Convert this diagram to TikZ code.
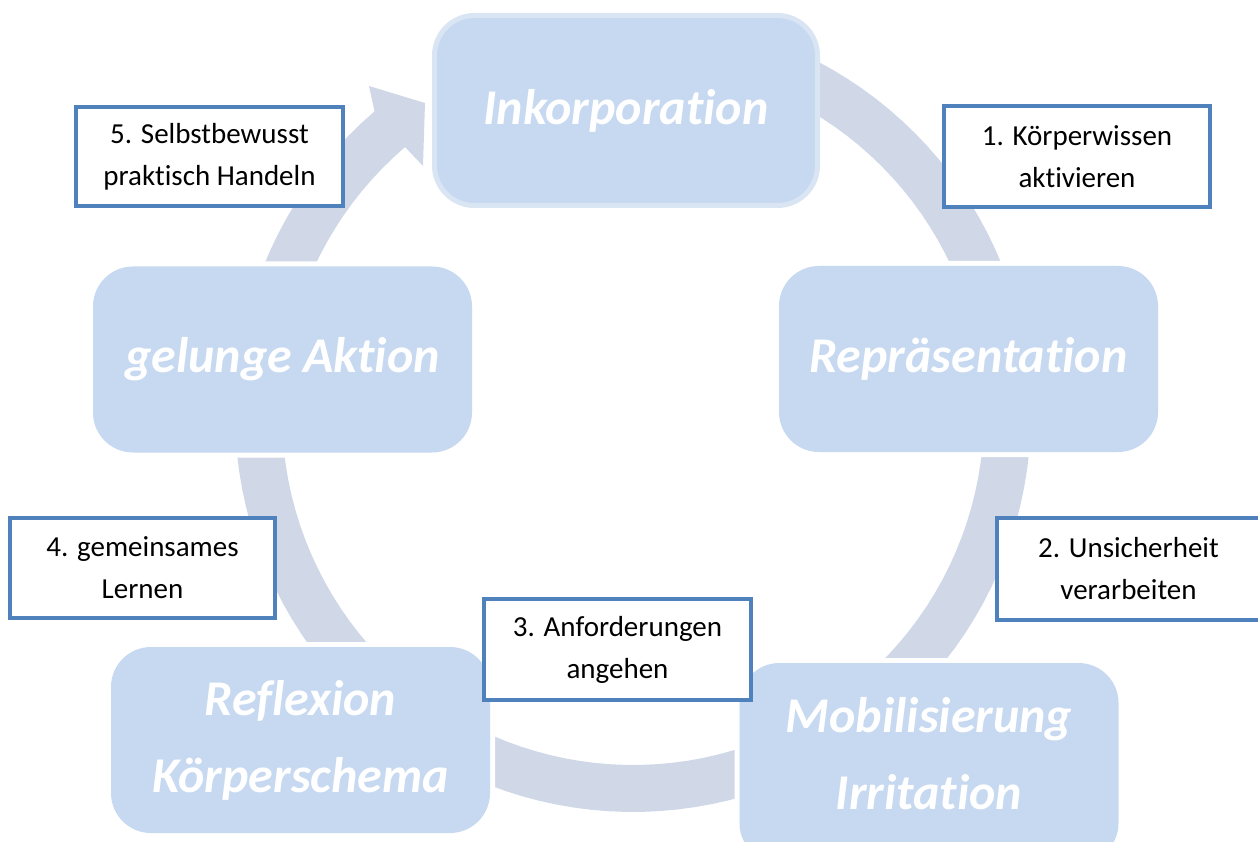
\documentclass[tikz,border=0pt]{standalone}
\usepackage{fontspec}
\setmainfont{Carlito}[Ligatures=NoCommon]
\definecolor{boxfill}{HTML}{C6D9F1}
\definecolor{bandcol}{HTML}{D0D8E8}
\definecolor{lightline}{HTML}{DAE5F4}
\definecolor{blueline}{HTML}{4F81BD}
\begin{document}
\begin{tikzpicture}[x=1pt,y=-1pt,
  bigfont/.style={text=white, align=center, font=\fontsize{50}{77}\selectfont\bfseries\itshape},
  bigbox/.style={rectangle, rounded corners=40pt, fill=boxfill, inner sep=0pt,
    minimum width=379pt, minimum height=186pt, bigfont,
    preaction={draw=white, line width=10pt}},
  stepbox/.style={rectangle, draw=blueline, line width=4pt, fill=white, inner sep=0pt,
    minimum width=267pt, minimum height=101pt, align=center, text=black,
    font=\fontsize{29}{42}\selectfont}]
\useasboundingbox (0,0) rectangle (1258,842);
% circular arrow band
\fill[bandcol] plot[domain=-70:229.5, samples=120] ({633+398*cos(\x)},{414+398*sin(\x)})
  -- (369,86) -- (425,103) -- (423,166)
  -- plot[domain=229.5:-70, samples=120] ({633+351*cos(\x)},{414+351*sin(\x)}) -- cycle;
% big boxes
\node[rectangle, rounded corners=40pt, fill=boxfill, draw=lightline, line width=5pt,
  minimum width=383pt, minimum height=190pt, inner sep=0pt, bigfont] (ink) at (626,110.5) {Inkorporation};
\node[bigbox] (rep) at (968.5,359) {Repräsentation};
\node[bigbox] (akt) at (282.5,359.5) {gelunge Aktion};
\node[bigbox, minimum height=200pt] (mob) at (929,763) {};
\node[bigfont] (mobtext) at (929,754) {Mobilisierung\\Irritation};
\node[bigbox] (ref) at (300.5,740) {Reflexion\\Körperschema};
% step boxes
\node[stepbox, minimum width=267pt, minimum height=99pt] (s5) at (209.5,156.5) {5. Selbstbewusst\\praktisch Handeln};
\node[stepbox, minimum width=266pt] (s1) at (1077,156.5) {1. Körperwissen\\aktivieren};
\node[stepbox, minimum width=263pt, minimum height=102pt] (s2) at (1128.5,569) {2. Unsicherheit\\verarbeiten};
\node[stepbox] (s3) at (617.5,649.5) {3. Anforderungen\\angehen};
\node[stepbox, minimum width=265pt, minimum height=100pt] (s4) at (142.5,568) {4. gemeinsames\\Lernen};
\end{tikzpicture}
\end{document}
